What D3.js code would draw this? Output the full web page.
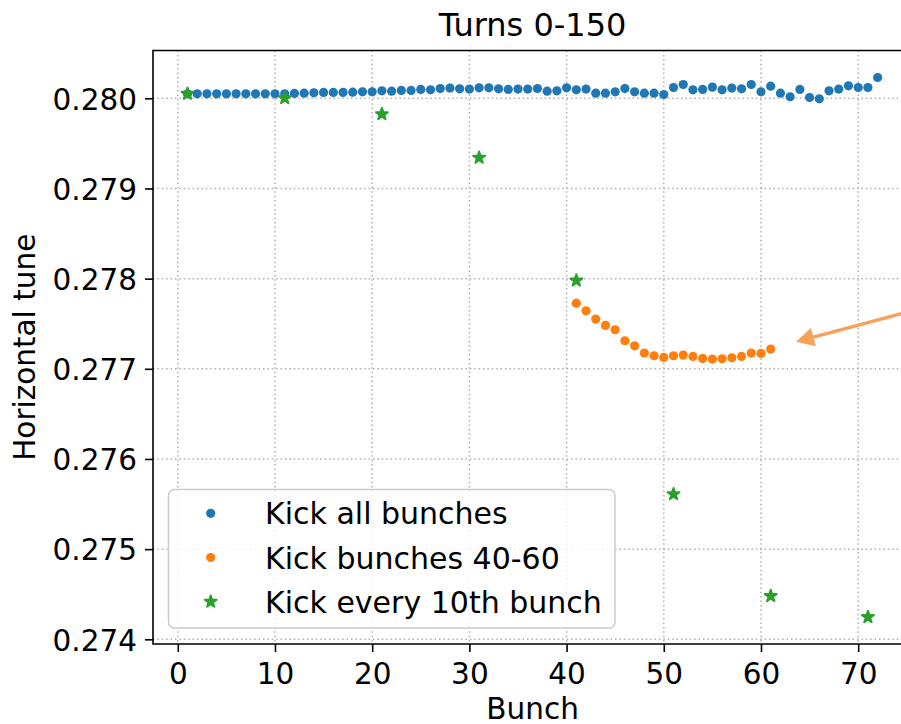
<!DOCTYPE html>
<html>
<head>
<meta charset="utf-8">
<script src="https://cdn.jsdelivr.net/npm/d3@7/dist/d3.min.js"></script>
<style>
  html, body { margin: 0; padding: 0; background: #fff; }
  svg { display: block; font-family: "DejaVu Sans", sans-serif; }
</style>
</head>
<body>
<svg id="chart" width="901" height="724"></svg>
<script>
// Horizontal tune per bunch, turns 0-150
const bunchesAll = d3.range(1, 73);
const tuneAll = [
  0.28005, 0.28005, 0.28005, 0.28005, 0.28005, 0.28005, 0.28005, 0.28005, 0.28005, 0.28005,
  0.28005, 0.280054, 0.280057, 0.280061, 0.280065, 0.280065, 0.280065, 0.280068, 0.280072, 0.280072,
  0.280083, 0.280079, 0.280087, 0.280087, 0.280098, 0.280094, 0.280109, 0.280113, 0.280105, 0.280102,
  0.280116, 0.280116, 0.280105, 0.280098, 0.280102, 0.280102, 0.280109, 0.280079, 0.280083, 0.280116,
  0.280094, 0.280102, 0.280057, 0.280057, 0.280072, 0.280109, 0.280072, 0.280057, 0.280057, 0.280042,
  0.280120, 0.280153, 0.280094, 0.280098, 0.280124, 0.280094, 0.280113, 0.280105, 0.280153, 0.280072,
  0.280135, 0.280057, 0.280017, 0.280098, 0.280009, 0.279994, 0.280083, 0.280102, 0.280138, 0.280120,
  0.280120, 0.280231
];

const bunchesMid = d3.range(41, 62);
const tuneMid = [
  0.277728, 0.277643, 0.277551, 0.277481, 0.277433, 0.277311, 0.277255, 0.277174, 0.277145, 0.277126,
  0.277145, 0.277152, 0.277137, 0.277115, 0.277108, 0.277111, 0.277122, 0.277137, 0.277174, 0.277170,
  0.277219
];

const bunchesTenth = [1, 11, 21, 31, 41, 51, 61, 71];
const tuneTenth = [0.28005, 0.280002, 0.279825, 0.279341, 0.277979, 0.275609, 0.27448, 0.274247];

const xTicks = [0, 10, 20, 30, 40, 50, 60, 70];
const yTicks = [0.274, 0.275, 0.276, 0.277, 0.278, 0.279, 0.280];

const seriesNames = ["Kick all bunches", "Kick bunches 40-60", "Kick every 10th bunch"];
const seriesColors = ["#1f77b4", "#ff7f0e", "#2ca02c"];

// annotation arrow pointing at the 40-60 group (tail lies off to the right)
const arrowTip = [63.6, 0.2773];
const arrowTail = [80, 0.27777];

const svg = d3.select("#chart");
const plot = { left: 153, top: 50.5, bottom: 644 };

// x/y extents padded by 5% on each side
const xExt = d3.extent(bunchesAll);
const xPad = (xExt[1] - xExt[0]) * 0.05;
const allTunes = tuneAll.concat(tuneMid, tuneTenth);
const yExt = d3.extent(allTunes);
const yPad = (yExt[1] - yExt[0]) * 0.05;

const pxPerBunch = 9.72;
const xDomain = [xExt[0] - xPad, xExt[1] + xPad];
const x = d3.scaleLinear()
  .domain(xDomain)
  .range([plot.left, plot.left + (xDomain[1] - xDomain[0]) * pxPerBunch]);
const y = d3.scaleLinear()
  .domain([yExt[0] - yPad, yExt[1] + yPad])
  .range([plot.bottom, plot.top]);

const plotRight = x.range()[1];

svg.append("clipPath").attr("id", "plotclip")
  .append("rect")
  .attr("x", plot.left).attr("y", plot.top)
  .attr("width", plotRight - plot.left).attr("height", plot.bottom - plot.top);

// dotted grid
const grid = svg.append("g").attr("class", "grid");
grid.selectAll("line.gx").data(xTicks).join("line")
  .attr("x1", d => x(d)).attr("x2", d => x(d))
  .attr("y1", plot.top).attr("y2", plot.bottom);
grid.selectAll("line.gy").data(yTicks).join("line")
  .attr("class", "gy")
  .attr("x1", plot.left).attr("x2", plotRight)
  .attr("y1", d => y(d)).attr("y2", d => y(d));
grid.selectAll("line")
  .attr("stroke", "#b0b0b0")
  .attr("stroke-width", 1.5)
  .attr("stroke-dasharray", "1.5,2.9");

const marks = svg.append("g").attr("clip-path", "url(#plotclip)");

const starPath = d3.symbol().type(d3.symbolStar).size(44);

function circles(xs, ys, color) {
  marks.append("g").selectAll("circle")
    .data(xs.map((b, i) => [b, ys[i]]))
    .join("circle")
    .attr("cx", d => x(d[0]))
    .attr("cy", d => y(d[1]))
    .attr("r", 4.6)
    .attr("fill", color);
}

circles(bunchesAll, tuneAll, seriesColors[0]);
circles(bunchesMid, tuneMid, seriesColors[1]);

marks.append("g").selectAll("path")
  .data(bunchesTenth.map((b, i) => [b, tuneTenth[i]]))
  .join("path")
  .attr("d", starPath)
  .attr("transform", d => `translate(${x(d[0])},${y(d[1])})`)
  .attr("fill", seriesColors[2])
  .attr("stroke", seriesColors[2])
  .attr("stroke-width", 2)
  .attr("stroke-linejoin", "round");

// annotation arrow
const arrowColor = "#f9a05b";
{
  const tx = x(arrowTip[0]), ty = y(arrowTip[1]);
  const sx = x(arrowTail[0]), sy = y(arrowTail[1]);
  const len = Math.hypot(sx - tx, sy - ty);
  const ux = (sx - tx) / len, uy = (sy - ty) / len;
  const headLen = 18, headHalf = 9.5;
  const bx = tx + ux * headLen, by = ty + uy * headLen;
  svg.append("line")
    .attr("x1", sx).attr("y1", sy)
    .attr("x2", bx).attr("y2", by)
    .attr("stroke", arrowColor)
    .attr("stroke-width", 3.4);
  svg.append("path")
    .attr("d", `M${tx},${ty}L${bx - uy * headHalf},${by + ux * headHalf}L${bx + uy * headHalf},${by - ux * headHalf}Z`)
    .attr("fill", arrowColor);
}

// axes
const fontSize = 29.5;
const xAxis = d3.axisBottom(x).tickValues(xTicks).tickSize(8).tickSizeOuter(0).tickPadding(10).tickFormat(d3.format("d"));
const yAxis = d3.axisLeft(y).tickValues(yTicks).tickSize(8).tickSizeOuter(0).tickPadding(8).tickFormat(d3.format(".3f"));

const gx = svg.append("g").attr("transform", `translate(0,${plot.bottom})`).call(xAxis);
const gy = svg.append("g").attr("transform", `translate(${plot.left},0)`).call(yAxis);
[gx, gy].forEach(g => {
  g.select(".domain").remove();
  g.selectAll(".tick line").attr("stroke", "#000").attr("stroke-width", 1.6);
  g.selectAll(".tick text")
    .attr("fill", "#000")
    .style("font-family", "'DejaVu Sans', sans-serif")
    .style("font-size", fontSize + "px");
});
gx.selectAll(".tick text").attr("dy", null).attr("y", 40).attr("dominant-baseline", "auto");
gy.selectAll(".tick text").attr("dy", "0.365em");

// spines
svg.append("path")
  .attr("d", `M${plotRight},${plot.top}H${plot.left}V${plot.bottom}H${plotRight}`)
  .attr("fill", "none")
  .attr("stroke", "#000")
  .attr("stroke-width", 1.6);

// titles
svg.append("text")
  .attr("x", (plot.left + plotRight) / 2).attr("y", 36)
  .attr("text-anchor", "middle")
  .style("font-size", "32px")
  .text("Turns 0-150");
svg.append("text")
  .attr("x", (plot.left + plotRight) / 2).attr("y", 719)
  .attr("text-anchor", "middle")
  .style("font-size", fontSize + "px")
  .text("Bunch");
svg.append("text")
  .attr("transform", `translate(35,${(plot.top + plot.bottom) / 2}) rotate(-90)`)
  .attr("text-anchor", "middle")
  .style("font-size", fontSize + "px")
  .text("Horizontal tune");

// legend
const legend = svg.append("g");
legend.append("rect")
  .attr("x", 168.5).attr("y", 489.5)
  .attr("width", 446.5).attr("height", 138.5)
  .attr("rx", 6)
  .attr("fill", "#fff").attr("fill-opacity", 0.8)
  .attr("stroke", "#cccccc").attr("stroke-width", 1.5);
const rows = legend.selectAll("g.row").data(seriesNames).join("g")
  .attr("transform", (d, i) => `translate(0,${513.3 + i * 44.2})`);
rows.each(function(d, i) {
  const g = d3.select(this);
  if (i < 2) {
    g.append("circle").attr("cx", 210.7).attr("cy", 0).attr("r", 4.6).attr("fill", seriesColors[i]);
  } else {
    g.append("path").attr("d", starPath).attr("transform", "translate(210.7,0)")
      .attr("fill", seriesColors[i]).attr("stroke", seriesColors[i])
      .attr("stroke-width", 2).attr("stroke-linejoin", "round");
  }
  g.append("text").attr("x", 265).attr("y", 11)
    .style("font-size", "30px")
    .text(d);
});
</script>
</body>
</html>
